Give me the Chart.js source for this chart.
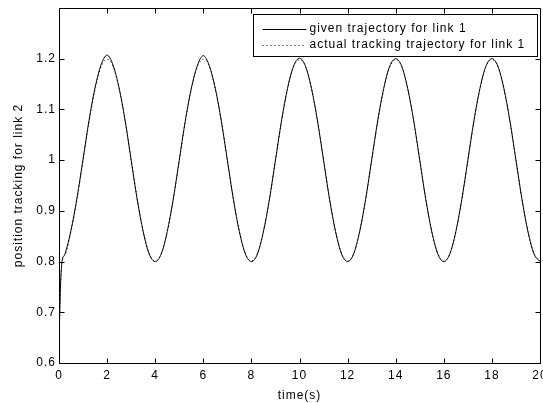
<!DOCTYPE html>
<html>
<head>
<meta charset="utf-8">
<script src="https://cdn.jsdelivr.net/npm/chart.js@4/dist/chart.umd.min.js"></script>
<style>
  html, body { margin: 0; padding: 0; background: #ffffff; }
  #wrap { width: 543px; height: 403px; }
</style>
</head>
<body>
<div id="wrap"><canvas id="c" width="543" height="403"></canvas></div>
<script>
// ---- data ----
const time = [
  0,0.25,0.5,0.75,1,1.25,1.5,1.75,2,2.25,2.5,2.75,3,3.25,3.5,3.75,
  4,4.25,4.5,4.75,5,5.25,5.5,5.75,6,6.25,6.5,6.75,7,7.25,7.5,7.75,
  8,8.25,8.5,8.75,9,9.25,9.5,9.75,10,10.25,10.5,10.75,11,11.25,11.5,11.75,
  12,12.25,12.5,12.75,13,13.25,13.5,13.75,14,14.25,14.5,14.75,15,15.25,15.5,15.75,
  16,16.25,16.5,16.75,17,17.25,17.5,17.75,18,18.25,18.5,18.75,19,19.25,19.5,19.75,
  20
];
// start-up transient (both curves start low and jump to 0.8)
const startTime = [0, 0.03, 0.06, 0.09, 0.125];
const startGiven = [0.630, 0.700, 0.750, 0.780, 0.800];
const startActual = [0.630, 0.690, 0.740, 0.775, 0.800];
// values from t = 0.25 on (same time grid as above)
const givenTrajectory = [
        0.815,0.862,0.926,1.002,1.079,1.143,1.188,1.207,1.187,1.142,1.078,1.000,0.923,0.859,0.815,
  0.800,0.815,0.859,0.923,1.000,1.077,1.141,1.186,1.206,1.186,1.141,1.077,1.000,0.923,0.859,0.815,
  0.800,0.815,0.859,0.923,1.000,1.077,1.141,1.185,1.201,1.185,1.141,1.077,1.000,0.923,0.859,0.815,
  0.800,0.815,0.859,0.923,1.000,1.077,1.141,1.185,1.200,1.185,1.141,1.077,1.000,0.923,0.859,0.815,
  0.800,0.815,0.859,0.923,1.000,1.077,1.141,1.185,1.200,1.185,1.141,1.077,1.000,0.923,0.859,0.815,
  0.800
];
const actualTracking = [
        0.813,0.860,0.923,0.999,1.076,1.140,1.184,1.199,1.185,1.141,1.078,1.001,0.924,0.860,0.816,
  0.801,0.815,0.859,0.922,0.999,1.076,1.140,1.184,1.199,1.185,1.141,1.077,1.000,0.923,0.859,0.816,
  0.801,0.815,0.859,0.922,0.999,1.076,1.140,1.184,1.198,1.185,1.141,1.077,1.000,0.923,0.859,0.816,
  0.801,0.815,0.859,0.922,0.999,1.076,1.140,1.184,1.198,1.185,1.141,1.077,1.000,0.923,0.859,0.816,
  0.801,0.815,0.859,0.922,0.999,1.076,1.140,1.184,1.198,1.185,1.141,1.077,1.000,0.923,0.859,0.816,
  0.801
];
const seriesNames = ['given trajectory for link 1', 'actual tracking trajectory for link 1'];
const xTicks = [0,2,4,6,8,10,12,14,16,18,20];
const yTicks = [0.6,0.7,0.8,0.9,1,1.1,1.2];
const xTitle = 'time(s)';
const yTitle = 'position tracking for link 2';

// ---- build datasets ----
const givenPts = startTime.map((t, i) => ({x: t, y: startGiven[i]}))
  .concat(time.slice(1).map((t, i) => ({x: t, y: givenTrajectory[i]})));
const actualPts = startTime.map((t, i) => ({x: t, y: startActual[i]}))
  .concat(time.slice(1).map((t, i) => ({x: t, y: actualTracking[i]})));

const FONT = '"Liberation Sans", Arial, sans-serif';
const SPACING = '1px';

const spacingPlugin = {
  id: 'spacing',
  beforeUpdate(chart) { chart.ctx.letterSpacing = SPACING; },
  beforeLayout(chart) { chart.ctx.letterSpacing = SPACING; },
  beforeDraw(chart) { chart.ctx.letterSpacing = SPACING; }
};

const framePlugin = {
  id: 'frame',
  afterDraw(chart) {
    const ctx = chart.ctx;
    const a = chart.chartArea;
    const xs = chart.scales.x, ys = chart.scales.y;
    ctx.save();
    ctx.letterSpacing = SPACING;
    ctx.strokeStyle = '#000';
    ctx.lineWidth = 1;
    ctx.beginPath();
    const L = Math.round(a.left) + 0.5, R = Math.round(a.right) + 0.5;
    const T = Math.round(a.top) + 0.5, B = Math.round(a.bottom) + 0.5;
    ctx.rect(L, T, R - L, B - T);
    const tl = 5;
    xTicks.forEach(v => {
      const px = Math.round(xs.getPixelForValue(v)) + 0.5;
      ctx.moveTo(px, B); ctx.lineTo(px, B - tl);
      ctx.moveTo(px, T); ctx.lineTo(px, T + tl);
    });
    yTicks.forEach(v => {
      const py = Math.round(ys.getPixelForValue(v)) + 0.5;
      ctx.moveTo(L, py); ctx.lineTo(L + tl, py);
      ctx.moveTo(R, py); ctx.lineTo(R - tl, py);
    });
    ctx.stroke();

    // legend box
    const bx = R - 287, by = T + 6, bw = 284, bh = 42;
    ctx.fillStyle = '#fff';
    ctx.fillRect(bx, by, bw, bh);
    ctx.strokeRect(bx, by, bw, bh);
    const rows = [by + 14, by + 30];
    ctx.font = '12px ' + FONT;
    ctx.textBaseline = 'middle';
    ctx.textAlign = 'left';
    ctx.fillStyle = '#000';
    chart.data.datasets.forEach((ds, i) => {
      const y = Math.round(rows[i]) + 0.5;
      ctx.beginPath();
      ctx.setLineDash(ds.borderDash || []);
      ctx.moveTo(bx + 9, y); ctx.lineTo(bx + 53, y);
      ctx.stroke();
      ctx.setLineDash([]);
      ctx.fillText(ds.label, bx + 56, rows[i]);
    });
    ctx.restore();
  }
};

new Chart(document.getElementById('c'), {
  type: 'line',
  data: {
    datasets: [
      {label: seriesNames[0], data: givenPts, borderColor: '#000', borderWidth: 1,
       pointRadius: 0, cubicInterpolationMode: 'monotone', fill: false},
      {label: seriesNames[1], data: actualPts, borderColor: '#000', borderWidth: 1,
       borderDash: [1, 3], pointRadius: 0, cubicInterpolationMode: 'monotone', fill: false}
    ]
  },
  options: {
    responsive: false,
    animation: false,
    layout: {padding: {top: 8, right: 3, left: 0, bottom: 0}},
    plugins: {legend: {display: false}, tooltip: {enabled: false}},
    scales: {
      x: {
        type: 'linear', min: 0, max: 20,
        afterBuildTicks: s => { s.ticks = xTicks.map(v => ({value: v})); },
        afterFit: s => { s.height = 40; s.paddingLeft = 0; s.paddingRight = 0; },
        grid: {display: false, drawTicks: false},
        border: {display: false},
        ticks: {color: '#000', font: {family: FONT, size: 12}, padding: 5, maxRotation: 0,
                callback: v => String(v)},
        title: {display: true, text: xTitle, color: '#000', font: {family: FONT, size: 12},
                padding: {top: 0, bottom: 0}}
      },
      y: {
        type: 'linear', min: 0.6, max: 1.3,
        afterBuildTicks: s => { s.ticks = yTicks.map(v => ({value: v})); },
        afterFit: s => { s.width = 59; s.paddingTop = 0; s.paddingBottom = 0; },
        grid: {display: false, drawTicks: false},
        border: {display: false},
        ticks: {color: '#000', font: {family: FONT, size: 12}, padding: 3,
                callback: v => String(Math.round(v * 10) / 10)},
        title: {display: true, text: yTitle, color: '#000', font: {family: FONT, size: 12},
                padding: {top: 11, bottom: 0}}
      }
    }
  },
  plugins: [spacingPlugin, framePlugin]
});
</script>
</body>
</html>
